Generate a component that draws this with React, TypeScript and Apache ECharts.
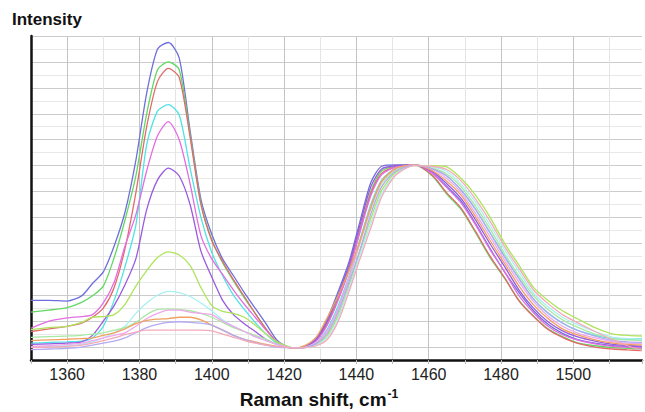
import React, { useEffect, useRef } from "react";
import * as echarts from "echarts";

const ramanShift = [1350,1355,1360,1364,1367,1370,1373,1376,1379,1382,1385,1388,1391,1394,1397,1400,1403,1406,1409,1412,1415,1418,1421,1423,1426,1429,1432,1435,1438,1441,1444,1447,1451,1456,1461,1465,1469,1473,1477,1481,1485,1489,1493,1497,1501,1506,1511,1515,1519];

const blue = [4.6,4.6,4.55,4.95,5.9,6.8,8.8,11.4,15.4,20.6,24.0,24.5,23.3,17.7,12.4,9.7,7.8,6.5,5.2,4.0,2.8,1.55,1.02,0.93,
  1.05,1.7,3.2,5.3,7.6,10.7,13.7,14.95,15.05,15.05,
  14.45,13.4,12.25,10.5,8.6,6.8,5.2,3.8,2.75,2.05,1.6,1.3,1.1,1.05,1.0];
const green = [3.7,3.85,4.05,4.45,4.95,5.7,7.9,10.8,14.2,19.0,22.4,23.0,22.4,17.4,12.1,9.3,7.5,6.1,4.8,3.6,2.4,1.4,1.0,0.93,
  1.03,1.58,2.9,4.9,7.2,10.1,13.0,14.6,14.95,15.05,
  14.2,12.8,11.6,9.8,7.9,6.3,4.6,3.4,2.4,1.8,1.35,1.1,0.95,0.9,0.85];
const red = [2.2,2.4,2.6,2.85,3.3,4.0,5.6,8.6,12.9,18.0,21.5,22.5,21.8,17.2,12.0,9.2,7.6,6.2,4.9,3.6,2.4,1.4,1.0,0.93,
  1.03,1.55,2.8,4.75,7.05,10.0,12.85,14.4,14.9,15.05,
  14.25,12.9,11.7,9.9,8.0,6.35,4.55,3.35,2.35,1.75,1.3,1.0,0.85,0.78,0.72];
const cyan = [1.3,1.35,1.4,1.45,1.7,2.6,4.6,7.2,10.4,16.6,19.2,19.7,18.9,14.8,11.0,8.3,6.5,5.0,3.9,2.9,2.0,1.3,1.0,0.93,
  1.0,1.4,2.4,4.2,6.5,9.3,12.0,13.9,14.8,15.05,
  14.75,14.2,13.1,11.6,9.8,8.0,6.3,4.7,3.6,2.85,2.3,1.9,1.65,1.6,1.65];
const magenta = [2.45,3.0,3.25,3.35,3.5,4.4,6.0,8.8,11.2,14.6,17.3,18.4,17.0,13.6,9.6,7.8,6.6,5.4,4.3,3.3,2.3,1.4,1.0,0.93,
  1.02,1.52,2.72,4.64,6.94,9.86,12.68,14.3,14.9,15.05,
  14.4,13.3,12.1,10.4,8.5,6.8,4.95,3.65,2.6,1.95,1.55,1.25,1.05,0.98,0.93];
const purple = [1.2,1.25,1.3,1.4,1.9,3.0,4.2,5.8,7.8,11.6,13.9,14.8,14.2,12.0,8.4,6.4,4.6,3.5,2.8,2.2,1.6,1.2,0.98,0.93,
  1.04,1.64,3.04,5.08,7.38,10.42,13.36,14.74,15.0,15.05,
  14.55,13.6,12.45,10.8,8.95,7.2,5.4,4.0,2.95,2.25,1.8,1.45,1.2,1.12,1.07];
const yellowGreen = [2.35,2.5,2.6,2.9,3.3,3.35,3.5,4.3,5.7,6.9,7.9,8.35,8.1,7.3,5.6,4.2,3.75,3.6,3.3,2.7,2.0,1.4,1.05,0.93,
  0.97,1.22,1.92,3.48,5.78,8.4,10.92,13.1,14.5,15.02,
  15.0,14.9,14.0,12.7,11.0,9.0,7.3,5.6,4.6,3.8,3.2,2.5,2.0,1.9,1.85];
const lightCyan = [1.0,1.05,1.1,1.2,1.4,1.7,2.1,2.6,3.6,4.4,5.0,5.3,5.2,4.9,4.4,3.8,3.1,2.6,2.2,1.8,1.5,1.2,1.0,0.93,
  0.96,1.16,1.76,3.24,5.54,8.1,10.56,12.86,14.4,15.0,
  14.9,14.55,13.55,12.15,10.4,8.5,6.8,5.15,4.1,3.3,2.75,2.2,1.75,1.65,1.6];
const paleGreen = [1.75,1.8,1.85,1.9,2.0,2.1,2.3,2.5,2.9,3.5,3.9,3.95,3.9,3.8,3.6,3.3,2.9,2.5,2.2,1.9,1.6,1.25,1.0,0.93,
  0.99,1.34,2.24,3.96,6.26,9.0,11.64,13.64,14.7,15.04,
  14.8,14.35,13.35,11.85,10.1,8.2,6.5,4.95,3.9,3.1,2.55,2.0,1.65,1.55,1.5];
const lightMagenta = [1.05,1.1,1.2,1.3,1.5,1.7,1.9,2.1,2.6,3.2,3.6,3.85,3.85,3.7,3.6,3.5,3.0,2.6,2.2,1.8,1.5,1.2,1.0,0.93,
  1.0,1.38,2.3,4.0,6.4,9.1,11.8,13.8,14.8,15.05,
  14.7,14.0,12.9,11.3,9.5,7.7,6.0,4.5,3.4,2.6,2.1,1.7,1.4,1.3,1.25];
const orange = [1.5,1.55,1.6,1.65,1.7,1.9,2.1,2.4,2.8,3.05,3.15,3.2,3.3,3.3,3.1,2.7,2.3,1.9,1.6,1.4,1.2,1.05,0.95,0.93,
  1.15,1.8,3.3,5.0,6.9,9.2,11.8,13.8,14.8,15.05,
  14.6,13.8,12.7,11.05,9.2,7.45,5.7,4.25,3.2,2.4,1.95,1.55,1.3,1.2,1.15];
const lavender = [0.8,0.85,0.9,1.0,1.15,1.3,1.45,1.7,2.1,2.5,2.75,2.9,2.95,2.9,2.85,2.7,2.3,1.9,1.6,1.35,1.15,1.0,0.95,0.93,
  0.98,1.28,2.08,3.72,6.02,8.5,11.28,13.38,14.6,15.03,
  14.75,14.2,13.1,11.6,9.8,7.95,6.25,4.7,3.65,2.85,2.3,1.85,1.5,1.4,1.35];
const lightPink = [0.95,1.0,1.05,1.15,1.3,1.5,1.7,1.95,2.15,2.3,2.3,2.3,2.3,2.3,2.3,2.25,2.0,1.75,1.5,1.3,1.15,1.05,0.97,0.93,
  0.95,1.1,1.6,3.0,5.3,7.8,10.2,12.6,14.3,15.0,
  14.95,14.7,13.8,12.4,10.7,8.75,7.05,5.4,4.35,3.5,2.9,2.2,1.55,1.1,0.75];

const spectra = [
  { name: "s1", color: "#6f6fdc", values: blue },
  { name: "s2", color: "#62d862", values: green },
  { name: "s3", color: "#e26a6a", values: red },
  { name: "s4", color: "#4fe3e3", values: cyan },
  { name: "s5", color: "#e36ee3", values: magenta },
  { name: "s6", color: "#9a5ade", values: purple },
  { name: "s7", color: "#aee45c", values: yellowGreen },
  { name: "s8", color: "#a8f0f0", values: lightCyan },
  { name: "s9", color: "#a9e8a4", values: paleGreen },
  { name: "s10", color: "#f0a6ec", values: lightMagenta },
  { name: "s11", color: "#f0a060", values: orange },
  { name: "s12", color: "#b4aaf2", values: lavender },
  { name: "s13", color: "#f4aab8", values: lightPink },
];

const FONT = "'Liberation Sans', Arial, Helvetica, sans-serif";

export default function App() {
  const ref = useRef<HTMLDivElement>(null);
  useEffect(() => {
    if (!ref.current) return;
    const chart = echarts.init(ref.current, undefined, { renderer: "svg" });
    chart.setOption({
      animation: false,
      backgroundColor: "#ffffff",
      grid: { left: 31, right: 0, top: 36, bottom: 52, containLabel: false },
      xAxis: {
        type: "value",
        min: 1350,
        max: 1519,
        interval: 10,
        axisLine: { show: true, onZero: false, lineStyle: { color: "#111", width: 2.5 } },
        axisTick: { show: true, length: 4, lineStyle: { color: "#bbbbbb" } },
        axisLabel: {
          margin: 6,
          fontSize: 16,
          color: "#222",
          fontFamily: FONT,
          formatter: (v: number) => (v % 20 === 0 && v < 1519 ? String(v) : ""),
        },
        splitLine: { show: true, showMaxLine: false, lineStyle: { color: ["#e4e4e4", "#c4c4c4"], width: 1 } },
      },
      yAxis: {
        type: "value",
        min: 0,
        max: 25,
        interval: 1,
        axisLine: { show: true, onZero: false, lineStyle: { color: "#111", width: 2.5 } },
        axisTick: { show: false },
        axisLabel: { show: false },
        splitLine: { show: true, lineStyle: { color: ["#e8e8e8", "#cccccc"], width: 1 } },
      },
      graphic: [
        {
          type: "text",
          left: 12,
          top: 11,
          style: { text: "Intensity", font: `bold 17px ${FONT}`, fill: "#111" },
        },
        {
          type: "text",
          x: 319,
          y: 399,
          style: {
            text: "{a|Raman shift, cm}{s|-1}",
            align: "center",
            verticalAlign: "middle",
            fill: "#111",
            rich: {
              a: { fontSize: 19, fontWeight: "bold", fontFamily: FONT, fill: "#111", lineHeight: 22 },
              s: { fontSize: 12, fontWeight: "bold", fontFamily: FONT, fill: "#111", verticalAlign: "top", lineHeight: 22, padding: [0, 0, 8, 1] },
            },
          },
        },
      ],
      series: spectra.map((s) => ({
        name: s.name,
        type: "line",
        showSymbol: false,
        smooth: 0.25,
        data: ramanShift.map((x, i) => [x, s.values[i]]),
        lineStyle: { color: s.color, width: 1.3 },
        itemStyle: { color: s.color },
        z: 3,
      })),
    });
    return () => chart.dispose();
  }, []);
  return <div ref={ref} style={{ width: 645, height: 412, position: "absolute", left: 0, top: 0 }} />;
}
